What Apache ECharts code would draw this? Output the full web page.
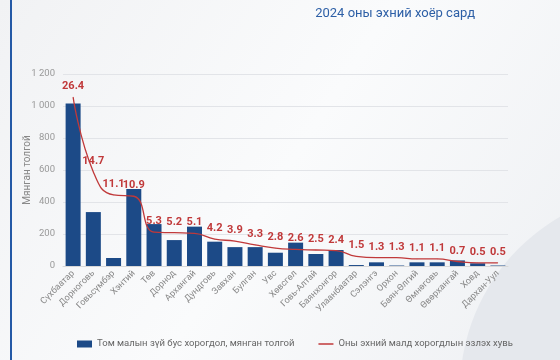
<!DOCTYPE html>
<html><head><meta charset="utf-8">
<script src="https://cdn.jsdelivr.net/npm/echarts@6/dist/echarts.min.js"></script>
<style>html,body{margin:0;padding:0;background:#f4f5f7}#c{width:560px;height:360px}</style>
</head><body><div id="c"></div>
<script>
var categories = ["Сүхбаатар","Дорноговь","Говьсүмбэр","Хэнтий","Төв","Дорнод","Архангай","Дундговь","Завхан","Булган","Увс","Хөвсгөл","Говь-Алтай","Баянхонгор","Улаанбаатар","Сэлэнгэ","Орхон","Баян-Өлгий","Өмнөговь","Өвөрхангай","Ховд","Дархан-Уул"];
var lossThousand = [1015,337,50,481,262,162,246,152,118,118,83,146,75,100,6,23,3,23,23,35,17,3];
var sharePct = [26.4,14.7,11.1,10.9,5.3,5.2,5.1,4.2,3.9,3.3,2.8,2.6,2.5,2.4,1.5,1.3,1.3,1.1,1.1,0.7,0.5,0.5];
var yTicks = [0,200,400,600,800,1000,1200];
var barName = "Том малын зүй бус хорогдол, мянган толгой";
var lineName = "Оны эхний малд хорогдлын эзлэх хувь";
var subtitle = "2024 оны эхний хоёр сард";
var yName = "Мянган толгой";

var chart = echarts.init(document.getElementById('c'));
chart.setOption({
  backgroundColor: new echarts.graphic.LinearGradient(0,0,1,1,[{offset:0,color:'#f1f2f4'},{offset:0.5,color:'#fafbfc'},{offset:1,color:'#eef0f3'}]),
  textStyle:{fontFamily:'Roboto, "Noto Sans", sans-serif'},
  graphic:[
    {type:'rect',left:10,top:0,shape:{width:2,height:360},style:{fill:'#2459a6'}},
    {type:'circle',shape:{cx:660,cy:390,r:200},style:{fill:'#e5e8ed'},z:-10},
    {type:'text',right:85,top:7,style:{text:subtitle,fill:'#2d5fa6',font:'13px Roboto, sans-serif'}}
  ],
  grid:{left:63,right:52,top:74,bottom:94},
  legend:{
    bottom:6,left:72,width:480,itemGap:24,itemWidth:15,itemHeight:7,
    textStyle:{color:'#666',fontSize:9.5},
    data:[{name:barName,icon:'rect'},{name:lineName,icon:'path://M0,0 L20,0 L20,2 L0,2 Z'}]
  },
  xAxis:{
    type:'category',data:categories,
    axisLine:{lineStyle:{color:'#d8d8d8'}},axisTick:{show:false},
    axisLabel:{rotate:45,color:'#888',fontSize:9,interval:0,margin:6}
  },
  yAxis:[{
    type:'value',min:yTicks[0],max:yTicks[yTicks.length-1],interval:200,
    name:yName,nameLocation:'middle',nameGap:31,nameRotate:90,nameMoveOverlap:false,
    nameTextStyle:{color:'#888',fontSize:10},
    axisLabel:{color:'#999',fontSize:9.5,margin:8,formatter:function(v){return String(v).replace(/\B(?=(\d{3})+(?!\d))/g,' ');}},
    splitLine:{lineStyle:{color:'#e2e4e8'}},axisLine:{show:false},axisTick:{show:false}
  },{
    type:'value',min:0,max:30,show:false,splitLine:{show:false}
  }],
  series:[{
    name:barName,type:'bar',data:lossThousand,barWidth:15,
    itemStyle:{color:'#1c4a87'}
  },{
    name:lineName,type:'line',yAxisIndex:1,data:sharePct,smooth:0.5,
    symbol:'circle',symbolSize:0.5,showSymbol:true,lineStyle:{color:'#c0393a',width:1.3},itemStyle:{color:'#c0393a'},
    label:{show:true,position:'top',color:'#c0393a',fontWeight:'bold',fontSize:11,distance:5}
  }]
});
</script></body></html>
